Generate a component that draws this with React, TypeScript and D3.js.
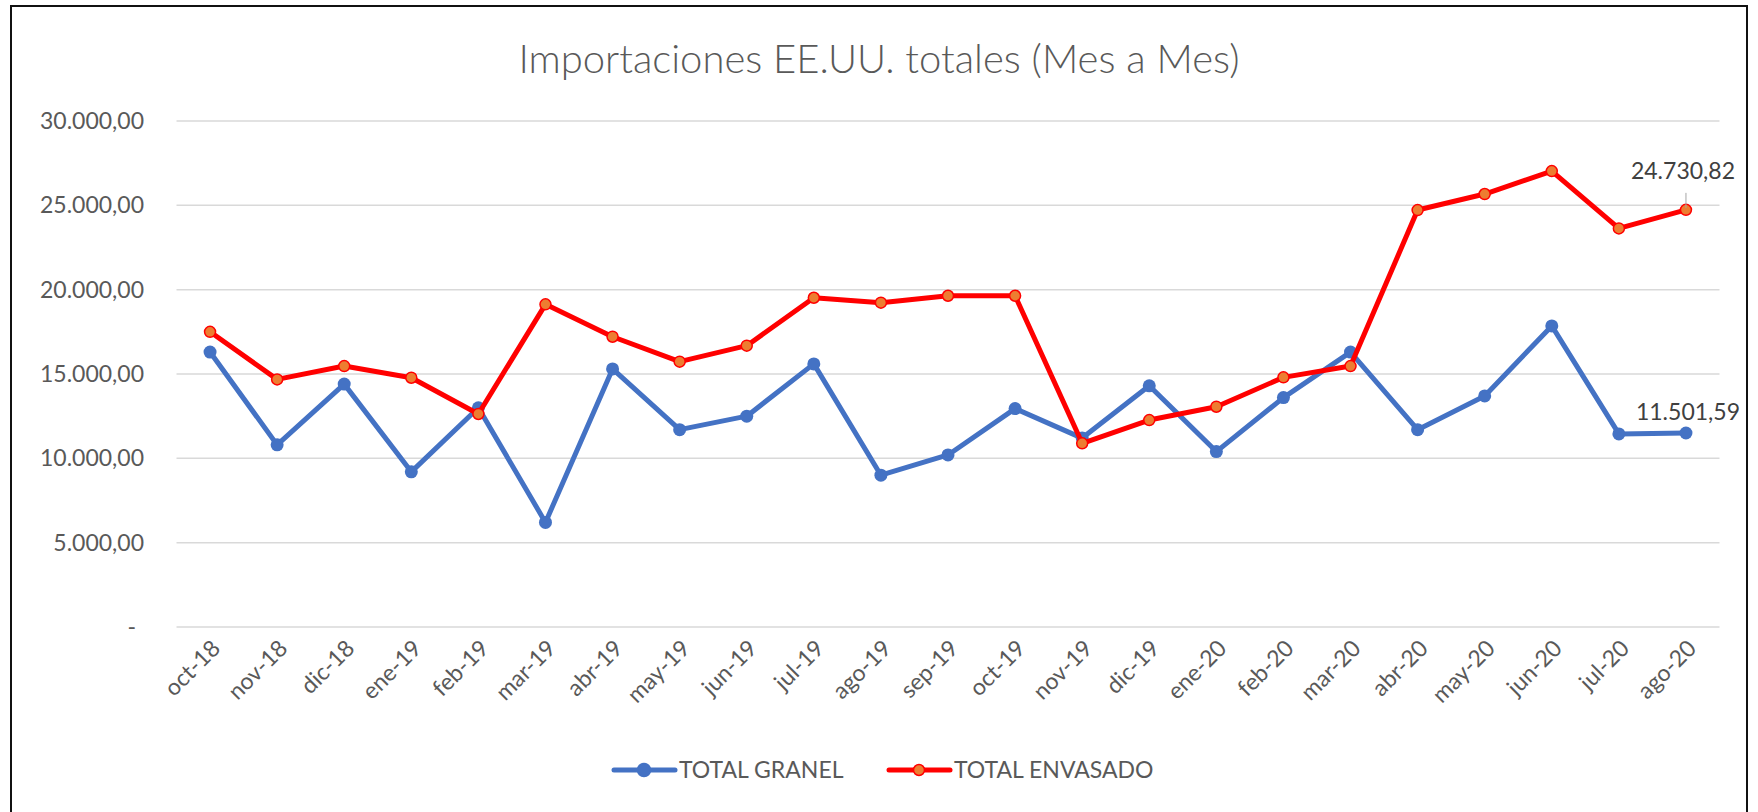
import React, { useEffect, useRef } from 'react';
import * as d3 from 'd3';

// datos
const months = [
  'oct-18', 'nov-18', 'dic-18', 'ene-19', 'feb-19', 'mar-19', 'abr-19', 'may-19',
  'jun-19', 'jul-19', 'ago-19', 'sep-19', 'oct-19', 'nov-19', 'dic-19', 'ene-20',
  'feb-20', 'mar-20', 'abr-20', 'may-20', 'jun-20', 'jul-20', 'ago-20',
];
const granel = [
  16300, 10800, 14400, 9200, 13000, 6200, 15300, 11700, 12500, 15600, 9000, 10200,
  12950, 11200, 14300, 10400, 13600, 16300, 11700, 13700, 17850, 11450, 11501.59,
];
const envasado = [
  17500, 14680, 15470, 14780, 12630, 19130, 17210, 15730, 16680, 19520, 19230, 19640,
  19640, 10890, 12270, 13060, 14800, 15470, 24720, 25670, 27030, 23630, 24730.82,
];
const yTicks = [0, 5000, 10000, 15000, 20000, 25000, 30000];
const seriesNames = ['TOTAL GRANEL', 'TOTAL ENVASADO'];
const title = 'Importaciones EE.UU. totales (Mes a Mes)';

const W = 1758;
const H = 812;
const FONT = 'Lato, "Liberation Sans", sans-serif';
const TXT = '#595959';
const BLUE = '#4472C4';
const RED = '#FF0000';
const ORANGE = '#ED7D31';

const locale = d3.formatLocale({ decimal: ',', thousands: '.', grouping: [3], currency: ['', ''] });
const fmt = locale.format(',.2f');

const App = () => {
  const ref = useRef<SVGSVGElement>(null);

  useEffect(() => {
    document.body.style.margin = '0';
    const svg = d3.select(ref.current);
    svg.selectAll('*').remove();

    svg.append('rect').attr('width', W).attr('height', H).attr('fill', '#fff');
    // marco
    svg.append('rect')
      .attr('x', 11).attr('y', 6)
      .attr('width', 1736).attr('height', H + 20)
      .attr('fill', 'none').attr('stroke', '#111').attr('stroke-width', 2);

    const left = 176.5, right = 1719.5;
    const x = d3.scalePoint<string>().domain(months).range([left, right]).padding(0.5);
    const y = d3.scaleLinear().domain([0, 30000]).range([627, 121]);

    // titulo
    svg.append('text')
      .attr('x', 879).attr('y', 73)
      .attr('text-anchor', 'middle')
      .style('font-family', FONT).style('font-size', '40px').style('font-weight', 300)
      .style('fill', TXT)
      .text(title);

    // grilla
    svg.append('g').selectAll('line').data(yTicks).enter().append('line')
      .attr('x1', left).attr('x2', right)
      .attr('y1', d => y(d)).attr('y2', d => y(d))
      .attr('stroke', '#d9d9d9').attr('stroke-width', 1.5);

    // eje Y
    svg.append('g').selectAll('text').data(yTicks).enter().append('text')
      .attr('x', d => (d === 0 ? 136 : 144))
      .attr('y', d => y(d))
      .attr('dy', '0.35em')
      .attr('text-anchor', 'end')
      .style('font-family', FONT).style('font-size', '23px').style('fill', TXT)
      .text(d => (d === 0 ? '-' : fmt(d)));

    // eje X
    svg.append('g').selectAll('text').data(months).enter().append('text')
      .attr('transform', d => `translate(${(x(d) as number) + 6},${644}) rotate(-45)`)
      .attr('text-anchor', 'end')
      .attr('dy', '0.35em')
      .style('font-family', FONT).style('font-size', '23px').style('fill', TXT)
      .text(d => d);

    const line = d3.line<number>()
      .x((_, i) => x(months[i]) as number)
      .y(d => y(d));

    // TOTAL GRANEL
    svg.append('path').datum(granel)
      .attr('d', line).attr('fill', 'none')
      .attr('stroke', BLUE).attr('stroke-width', 5).attr('stroke-linejoin', 'round');
    svg.append('g').selectAll('circle').data(granel).enter().append('circle')
      .attr('cx', (_, i) => x(months[i]) as number).attr('cy', d => y(d))
      .attr('r', 6.5).attr('fill', BLUE);

    // TOTAL ENVASADO
    svg.append('path').datum(envasado)
      .attr('d', line).attr('fill', 'none')
      .attr('stroke', RED).attr('stroke-width', 5).attr('stroke-linejoin', 'round');
    svg.append('g').selectAll('circle').data(envasado).enter().append('circle')
      .attr('cx', (_, i) => x(months[i]) as number).attr('cy', d => y(d))
      .attr('r', 5.5).attr('fill', ORANGE).attr('stroke', RED).attr('stroke-width', 1.5);

    // etiquetas del ultimo dato
    const last = months.length - 1;
    const lx = x(months[last]) as number;
    svg.append('line')
      .attr('x1', lx).attr('x2', lx)
      .attr('y1', y(envasado[last]) - 17).attr('y2', y(envasado[last]) - 2)
      .attr('stroke', '#a6a6a6').attr('stroke-width', 1);
    svg.append('text')
      .attr('x', lx - 3).attr('y', y(envasado[last]) - 31)
      .attr('text-anchor', 'middle')
      .style('font-family', FONT).style('font-size', '23px').style('fill', '#404040')
      .text(fmt(envasado[last]));
    svg.append('text')
      .attr('x', lx + 2).attr('y', y(granel[last]) - 13)
      .attr('text-anchor', 'middle')
      .style('font-family', FONT).style('font-size', '23px').style('fill', '#404040')
      .text(fmt(granel[last]));

    // leyenda
    const legend = [
      { name: seriesNames[0], x0: 614, stroke: BLUE, fill: BLUE, r: 6.5 },
      { name: seriesNames[1], x0: 889, stroke: RED, fill: ORANGE, r: 5.5 },
    ];
    const lg = svg.append('g').selectAll('g').data(legend).enter().append('g');
    lg.append('line')
      .attr('x1', d => d.x0).attr('x2', d => d.x0 + 61)
      .attr('y1', 770).attr('y2', 770)
      .attr('stroke', d => d.stroke).attr('stroke-width', 5).attr('stroke-linecap', 'round');
    lg.append('circle')
      .attr('cx', d => d.x0 + 30).attr('cy', 770).attr('r', d => d.r)
      .attr('fill', d => d.fill).attr('stroke', d => d.stroke).attr('stroke-width', 1.5);
    lg.append('text')
      .attr('x', d => d.x0 + 65).attr('y', 770).attr('dy', '0.35em')
      .style('font-family', FONT).style('font-size', '23px').style('fill', TXT)
      .text(d => d.name);
  }, []);

  return <svg ref={ref} width={W} height={H} style={{ display: 'block' }} />;
};

export default App;
